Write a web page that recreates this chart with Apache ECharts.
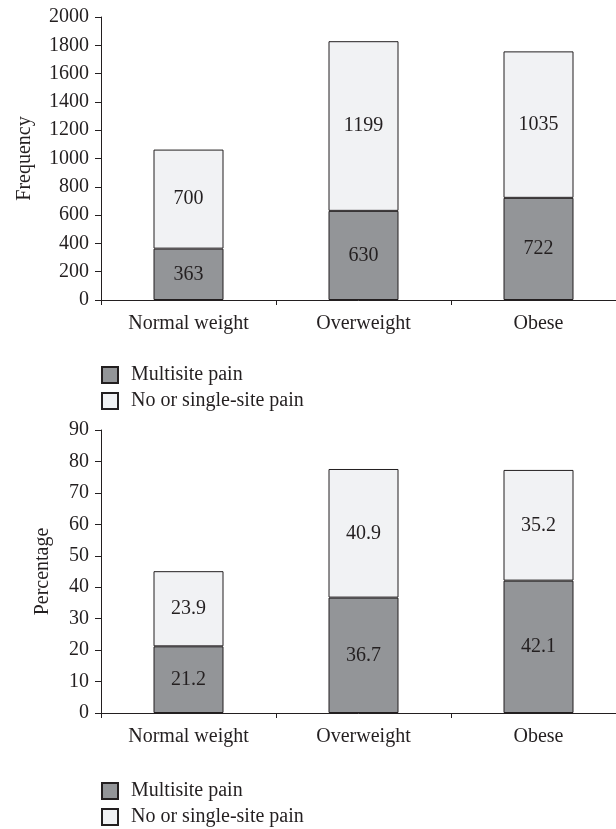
<!DOCTYPE html>
<html>
<head>
    <meta charset="utf-8">
    <script src="https://cdn.jsdelivr.net/npm/echarts@6/dist/echarts.min.js"></script>
    <style>
        html, body { margin: 0; padding: 0; background: #fff; }
    </style>
</head>
<body>
<div id="main" style="width: 616px;height:829px;"></div>
<script type="text/javascript">
    var categories = ['Normal weight', 'Overweight', 'Obese'];
    var seriesNames = ['Multisite pain', 'No or single-site pain'];

    // frequency panel
    var freqMulti = [363, 630, 722];
    var freqOther = [700, 1199, 1035];

    // percentage panel
    var pctMulti = [21.2, 36.7, 42.1];
    var pctOther = [23.9, 40.9, 35.2];

    var textColor = '#231f20';
    var fontName = 'Liberation Serif';
    var colors = ['#939598', '#f1f2f4'];

    function xAxisFor(gridIndex) {
        return {
            type: 'category',
            gridIndex: gridIndex,
            data: categories,
            axisLine: { lineStyle: { color: textColor, width: 1 } },
            axisTick: { show: true, length: 5, lineStyle: { color: textColor } },
            axisLabel: { color: textColor, fontFamily: fontName, fontSize: 20, margin: 14 },
            splitLine: { show: false }
        };
    }

    function yAxisFor(gridIndex, name, max, interval, gap) {
        return {
            type: 'value',
            gridIndex: gridIndex,
            name: name,
            nameLocation: 'middle',
            nameGap: gap,
            nameTextStyle: { color: textColor, fontFamily: fontName, fontSize: 20 },
            min: 0,
            max: max,
            interval: interval,
            axisLine: { show: true, lineStyle: { color: textColor, width: 1 } },
            axisTick: { show: true, length: 6, lineStyle: { color: textColor } },
            axisLabel: {
                color: textColor, fontFamily: fontName, fontSize: 20, margin: 12,
                formatter: function (v) { return String(v); }
            },
            splitLine: { show: false }
        };
    }

    function barSeries(name, data, idx, colorIdx) {
        return {
            name: name,
            type: 'bar',
            stack: 'total' + idx,
            xAxisIndex: idx,
            yAxisIndex: idx,
            barWidth: 70,
            data: data,
            itemStyle: { color: colors[colorIdx], borderColor: textColor, borderWidth: 1 },
            label: {
                show: true,
                position: 'inside',
                color: textColor,
                fontFamily: fontName,
                fontSize: 20
            },
            emphasis: { disabled: true }
        };
    }

    function legendAt(top) {
        return {
            orient: 'vertical',
            left: 101,
            top: top,
            padding: 0,
            itemWidth: 16,
            itemHeight: 16,
            itemGap: 6,
            icon: 'rect',
            data: seriesNames,
            textStyle: { color: textColor, fontFamily: fontName, fontSize: 20, padding: [0, 0, 0, 8] }
        };
    }

    var myChart = echarts.init(document.getElementById('main'));

    var option = {
        animation: false,
        backgroundColor: '#ffffff',
        grid: [
            { left: 101, top: 17, width: 525, height: 283, outerBoundsMode: 'none' },
            { left: 101, top: 430, width: 525, height: 283, outerBoundsMode: 'none' }
        ],
        legend: [legendAt(365), legendAt(781)],
        xAxis: [xAxisFor(0), xAxisFor(1)],
        yAxis: [
            yAxisFor(0, 'Frequency', 2000, 200, 66),
            yAxisFor(1, 'Percentage', 90, 10, 48)
        ],
        series: [
            barSeries(seriesNames[0], freqMulti, 0, 0),
            barSeries(seriesNames[1], freqOther, 0, 1),
            barSeries(seriesNames[0], pctMulti, 1, 0),
            barSeries(seriesNames[1], pctOther, 1, 1)
        ]
    };
    myChart.setOption(option);
</script>
</body>
</html>
